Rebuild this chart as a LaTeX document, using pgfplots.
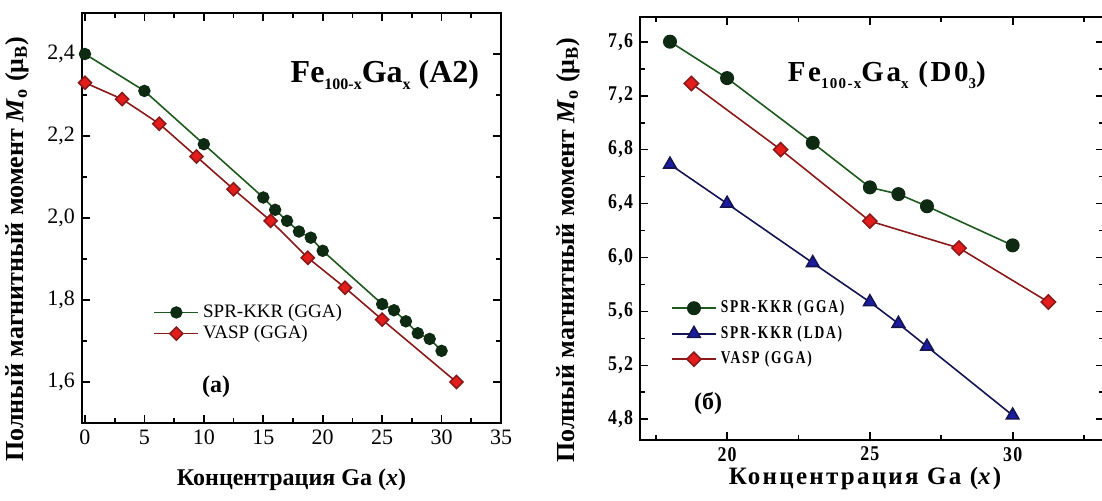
\documentclass[border=0pt]{standalone}
\usepackage{fontspec}
\setmainfont{LiberationSerif}[Extension=.ttf, UprightFont=*-Regular, BoldFont=*-Bold, ItalicFont=*-Italic, BoldItalicFont=*-BoldItalic]
\newfontfamily\spaced{LiberationSerif}[Extension=.ttf, UprightFont=*-Regular, BoldFont=*-Bold, ItalicFont=*-Italic, BoldItalicFont=*-BoldItalic, LetterSpace=9]
\newfontfamily\legfont{LiberationSerif}[Extension=.ttf, UprightFont=*-Regular, BoldFont=*-Bold, ItalicFont=*-Italic, BoldItalicFont=*-BoldItalic, FakeStretch=0.75, LetterSpace=10]
\newfontfamily\tickfont{LiberationSerif}[Extension=.ttf, UprightFont=*-Regular, BoldFont=*-Bold, ItalicFont=*-Italic, BoldItalicFont=*-BoldItalic, FakeStretch=0.85, LetterSpace=6]
\usepackage{pgfplots}
\pgfplotsset{compat=1.18}
\definecolor{gline}{HTML}{1E5A1E}
\definecolor{gfill}{HTML}{0E2A12}
\definecolor{rline}{HTML}{8A1A1A}
\definecolor{rfill}{HTML}{E41C1C}
\definecolor{bline}{HTML}{141452}
\definecolor{bfill}{HTML}{1C1CA0}
\pgfplotsset{
  myax/.style={
    scale only axis,
    axis line style={line width=1pt},
    major tick length=4pt,
    minor tick length=2.5pt,
    every tick/.style={line width=0.9pt, black},
    /pgf/number format/assume math mode=true,
    yticklabel style={/pgf/number format/.cd, fixed, fixed zerofill, precision=1, use comma},
    legend cell align=left,
    legend image code/.code={\draw[mark repeat=2,mark phase=2] plot coordinates {(0pt,0pt) (11pt,0pt) (22pt,0pt)};},
  }
}
\pgfplotstableread{
x y
0 2.40
5 2.31
10 2.18
15 2.05
16 2.02
17 1.993
18 1.967
19 1.952
20 1.92
25 1.79
26 1.775
27 1.748
28 1.719
29 1.705
30 1.676
}\AkkrG
\pgfplotstableread{
x y
0 2.33
3.125 2.29
6.25 2.23
9.375 2.15
12.5 2.07
15.625 1.993
18.75 1.903
21.875 1.83
25 1.752
31.25 1.60
}\Avasp
\pgfplotstableread{
x y
18 7.60
20 7.33
23 6.85
25 6.52
26 6.47
27 6.38
30 6.09
}\DkkrG
\pgfplotstableread{
x y
18 6.69
20 6.40
23 5.96
25 5.67
26 5.51
27 5.34
30 4.83
}\DkkrL
\pgfplotstableread{
x y
18.75 7.29
21.875 6.80
25 6.27
28.125 6.07
31.25 5.67
}\Dvasp
\begin{document}
\begin{tikzpicture}
\path[use as bounding box] (0,0) rectangle (551pt,250pt);
\clip (0,0) rectangle (551pt,250pt);
% ---------- left panel ----------
\begin{axis}[myax,
  at={(41pt,38.5pt)}, anchor=south west,
  width=209.5pt, height=205pt,
  xmin=-0.25, xmax=35, ymin=1.5, ymax=2.5,
  xtick={0,5,...,35}, minor xtick={2.5,7.5,...,32.5},
  ytick={1.6,1.8,2.0,2.2,2.4}, minor ytick={1.7,1.9,2.1,2.3},
  tick label style={font=\fontsize{11}{11}\selectfont},
  xlabel={\bfseries Концентрация Ga (\textit{x})},
  ylabel={\bfseries Полный магнитный момент \textit{M}\textsubscript{o} (μ\textsubscript{B})},
  xlabel style={font=\fontsize{12}{12}\selectfont, at={(axis description cs:0.5,-0.139)}, anchor=center},
  ylabel style={font=\fontsize{13}{13}\selectfont, at={(axis description cs:-0.155,0.424)}, anchor=center},
  legend style={draw=none, fill=none, at={(0.165,0.305)}, anchor=north west,
    font=\fontsize{9.5}{10}\selectfont, row sep=-1.5pt, inner sep=1pt},
]
\addplot[color=gline, line width=0.8pt, mark=*, mark size=2.7pt,
  mark options={fill=gfill, draw=gfill}] table[x=x,y=y] {\AkkrG};
\addlegendentry{SPR-KKR (GGA)}
\addplot[color=rline, line width=0.8pt, mark=square*, mark size=2.3pt,
  mark options={fill=rfill, draw=rline, rotate=45}] table[x=x,y=y] {\Avasp};
\addlegendentry{VASP (GGA)}
\node[font=\fontsize{16}{16}\selectfont\bfseries] at (rel axis cs:0.723,0.849)
  {Fe\raisebox{-3.5pt}{\fontsize{8}{8}\selectfont 100-x}Ga\raisebox{-3.5pt}{\fontsize{8}{8}\selectfont x} (A2)};
\node[font=\fontsize{12}{12}\selectfont\bfseries] at (rel axis cs:0.32,0.088) {(а)};
\end{axis}
% ---------- right panel ----------
\begin{axis}[myax,
  at={(320pt,30pt)}, anchor=south west,
  width=232pt, height=211.5pt,
  xmin=16.95, xmax=33.2, ymin=4.647, ymax=7.783,
  xtick={20,25,30}, minor xtick={17.5,22.5,27.5,32.5},
  ytick={4.8,5.2,5.6,6.0,6.4,6.8,7.2,7.6}, minor ytick={5.0,5.4,5.8,6.2,6.6,7.0,7.4},
  tick label style={font=\fontsize{10.5}{10.5}\selectfont\tickfont\bfseries},
  xlabel={\spaced\bfseries Концентрация Ga (\textit{x})},
  ylabel={\bfseries Полный магнитный момент \textit{M}\textsubscript{o} (μ\textsubscript{B})},
  xlabel style={font=\fontsize{12.5}{13}\selectfont, at={(axis description cs:0.485,-0.09)}, anchor=center},
  ylabel style={font=\fontsize{13}{13}\selectfont, at={(axis description cs:-0.155,0.449)}, anchor=center},
  legend style={draw=none, fill=none, at={(0.062,0.345)}, anchor=north west,
    font=\fontsize{9}{10}\selectfont\legfont\bfseries, row sep=1pt, inner sep=1pt},
]
\addplot[color=gline, line width=0.8pt, mark=*, mark size=3.1pt,
  mark options={fill=gfill, draw=gfill}] table[x=x,y=y] {\DkkrG};
\addlegendentry{SPR-KKR (GGA)}
\addplot[color=bline, line width=0.8pt, mark=triangle*, mark size=3.6pt,
  mark options={fill=bfill, draw=bline}] table[x=x,y=y] {\DkkrL};
\addlegendentry{SPR-KKR (LDA)}
\addplot[color=rline, line width=0.8pt, mark=square*, mark size=2.5pt,
  mark options={fill=rfill, draw=rline, rotate=45}] table[x=x,y=y] {\Dvasp};
\addlegendentry{VASP (GGA)}
\node[font=\fontsize{14.5}{15}\selectfont\spaced\bfseries] at (rel axis cs:0.532,0.863)
  {Fe\raisebox{-3.5pt}{\fontsize{7.5}{7.5}\selectfont 100-x}Ga\raisebox{-3.5pt}{\fontsize{7.5}{7.5}\selectfont x} (D0\raisebox{-3.5pt}{\fontsize{7.5}{7.5}\selectfont 3})};
\node[font=\fontsize{12}{12}\selectfont\bfseries] at (rel axis cs:0.147,0.087) {(б)};
\end{axis}
\end{tikzpicture}
\end{document}
